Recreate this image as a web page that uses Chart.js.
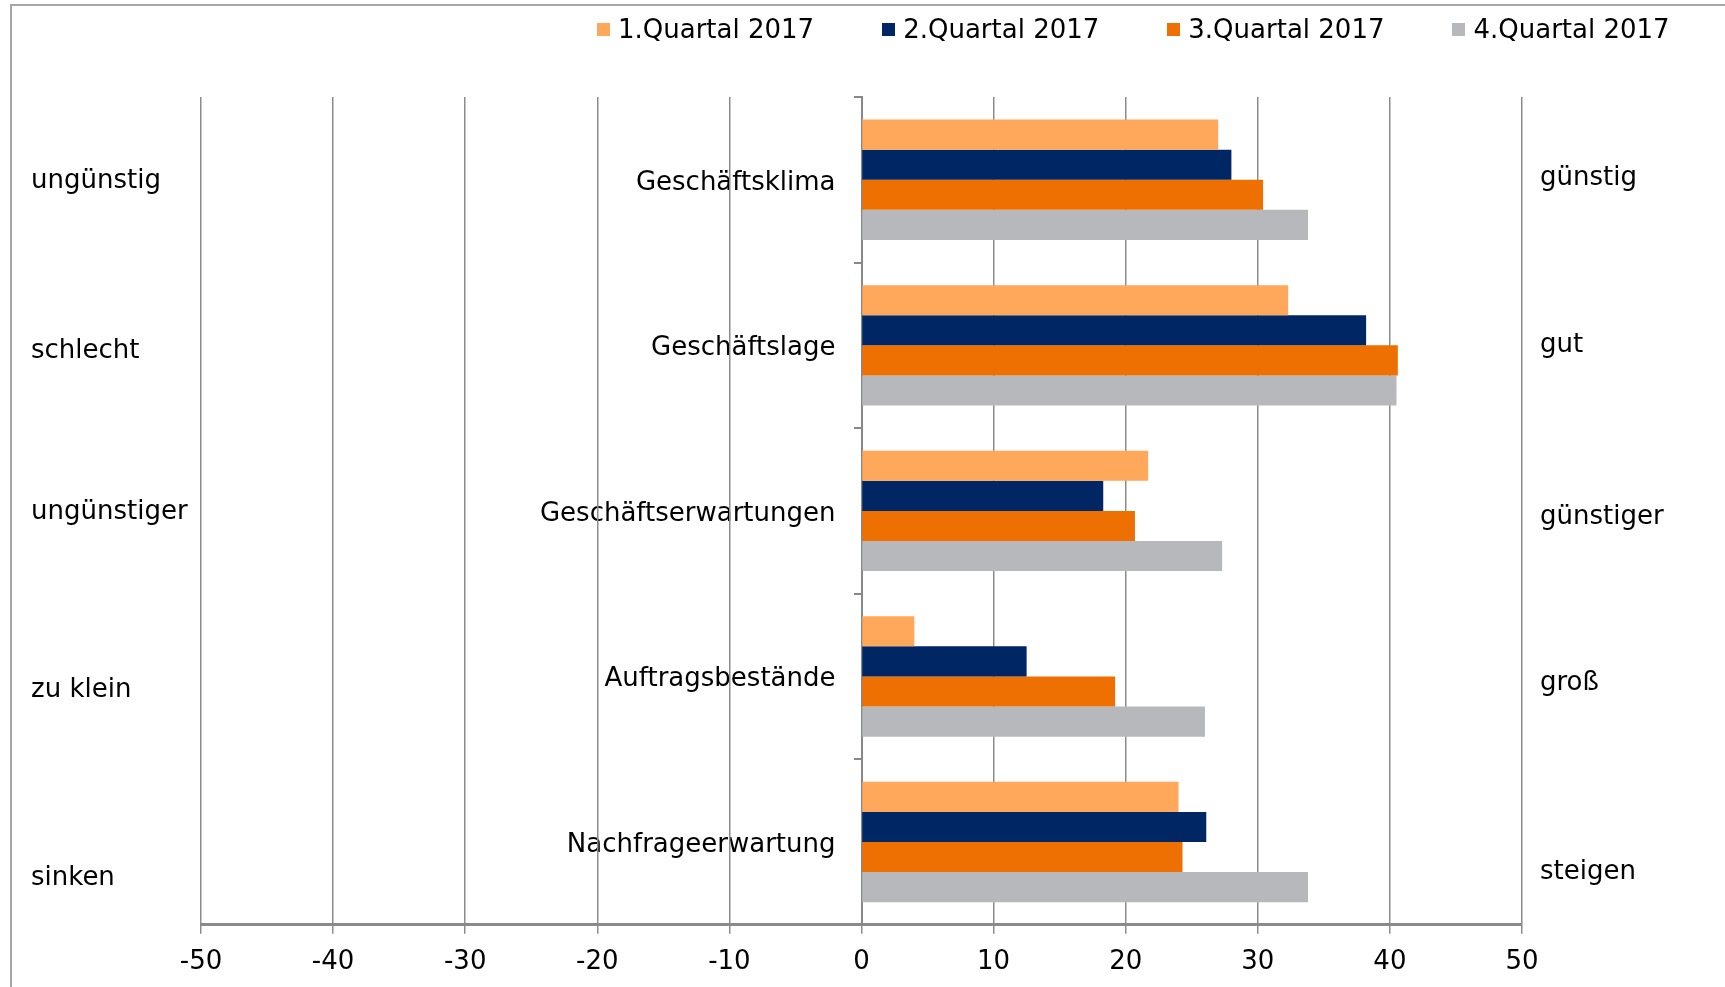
<!DOCTYPE html>
<html>
<head>
<meta charset="utf-8">
<title>Geschäftsklima 2017</title>
<script src="https://cdn.jsdelivr.net/npm/chart.js@4.4.1/dist/chart.umd.min.js"></script>
<style>
    html, body { margin: 0; padding: 0; background: #fff; overflow: hidden; }
    #wrap { position: relative; width: 1725px; height: 987px; }
    #frame { position: absolute; left: 10px; top: 4px; width: 1800px; height: 1100px; border: 2px solid #a6a6a6; box-sizing: border-box; }
    #legend { position: absolute; left: 597px; top: 14px; display: flex; gap: 68px; font: 26px Verdana, "DejaVu Sans", sans-serif; color: #000; }
    #legend .item { display: flex; align-items: center; white-space: nowrap; }
    #legend .box { width: 13px; height: 13px; margin-right: 8px; }
    canvas { position: absolute; left: 0; top: 0; }
</style>
</head>
<body>
<div id="wrap">
    <div id="frame"></div>
    <canvas id="chart" width="1725" height="987"></canvas>
    <div id="legend"></div>
</div>
<script>
// Kategorien und Werte (Saldo in Prozentpunkten)
const categories = ['Geschäftsklima', 'Geschäftslage', 'Geschäftserwartungen', 'Auftragsbestände', 'Nachfrageerwartung'];
const negativeLabels = ['ungünstig', 'schlecht', 'ungünstiger', 'zu klein', 'sinken'];
const positiveLabels = ['günstig', 'gut', 'günstiger', 'groß', 'steigen'];
const seriesNames = ['1.Quartal 2017', '2.Quartal 2017', '3.Quartal 2017', '4.Quartal 2017'];
const q1 = [27.0, 32.3, 21.7, 4.0, 24.0];
const q2 = [28.0, 38.2, 18.3, 12.5, 26.1];
const q3 = [30.4, 40.6, 20.7, 19.2, 24.3];
const q4 = [33.8, 40.5, 27.3, 26.0, 33.8];
const xTicks = [-50, -40, -30, -20, -10, 0, 10, 20, 30, 40, 50];

const colors = ['#FFA75B', '#002663', '#EE6F02', '#B7B8BC'];
const FONT = 'Verdana, "DejaVu Sans", sans-serif';

// Beschriftungen links/rechts und Kategorienamen an der Nulllinie
const textLabels = {
    id: 'textLabels',
    beforeDraw(chart, args, opts) {
        const { ctx, scales: { x, y } } = chart;
        ctx.save();
        ctx.font = '26px ' + FONT;
        ctx.fillStyle = '#000';
        ctx.textBaseline = 'middle';

        const x0 = x.getPixelForValue(0);
        ctx.textAlign = 'right';
        categories.forEach((c, i) => ctx.fillText(c, x0 - 26, y.getPixelForValue(i) + 3));

        ctx.textAlign = 'left';
        negativeLabels.forEach((t, i) => ctx.fillText(t, opts.leftX, y.getPixelForValue(i) + opts.leftShift[i]));
        positiveLabels.forEach((t, i) => ctx.fillText(t, x.right + opts.rightGap, y.getPixelForValue(i) + opts.rightShift[i]));
        ctx.restore();
    }
};

const chart = new Chart(document.getElementById('chart'), {
    type: 'bar',
    data: {
        labels: categories,
        datasets: [q1, q2, q3, q4].map((d, i) => ({
            label: seriesNames[i],
            data: d,
            backgroundColor: colors[i],
            categoryPercentage: 0.727,
            barPercentage: 1.0
        }))
    },
    options: {
        indexAxis: 'y',
        responsive: false,
        animation: false,
        layout: { padding: { left: 201, right: 203, top: 97, bottom: 10 } },
        plugins: {
            legend: { display: false },
            tooltip: { enabled: false },
            textLabels: {
                leftX: 31,
                rightGap: 18,
                leftShift: [1, 6, 1, 14, 36],
                rightShift: [-2, 0, 6, 7, 30]
            }
        },
        scales: {
            x: {
                min: -50,
                max: 50,
                afterBuildTicks: axis => { axis.ticks = xTicks.map(v => ({ value: v })); },
                afterFit: axis => { axis.height -= 14; },
                ticks: { color: '#000', font: { family: FONT, size: 26 }, padding: 13, maxRotation: 0 },
                grid: { color: '#8c8c8c', lineWidth: 1.5, tickLength: 9 },
                border: { color: '#8a8a8a', width: 3 }
            },
            y: {
                position: { x: 0 },
                ticks: { display: false },
                grid: { drawOnChartArea: false, offset: true, tickLength: 7, color: '#888', lineWidth: 2 },
                border: { display: true, color: '#888', width: 2 }
            }
        }
    },
    plugins: [textLabels]
});

// Legende aus den Datensätzen
const legendEl = document.getElementById('legend');
chart.data.datasets.forEach(ds => {
    const item = document.createElement('div');
    item.className = 'item';
    item.innerHTML = '<span class="box" style="background:' + ds.backgroundColor + '"></span>' + ds.label;
    legendEl.appendChild(item);
});
</script>
</body>
</html>
